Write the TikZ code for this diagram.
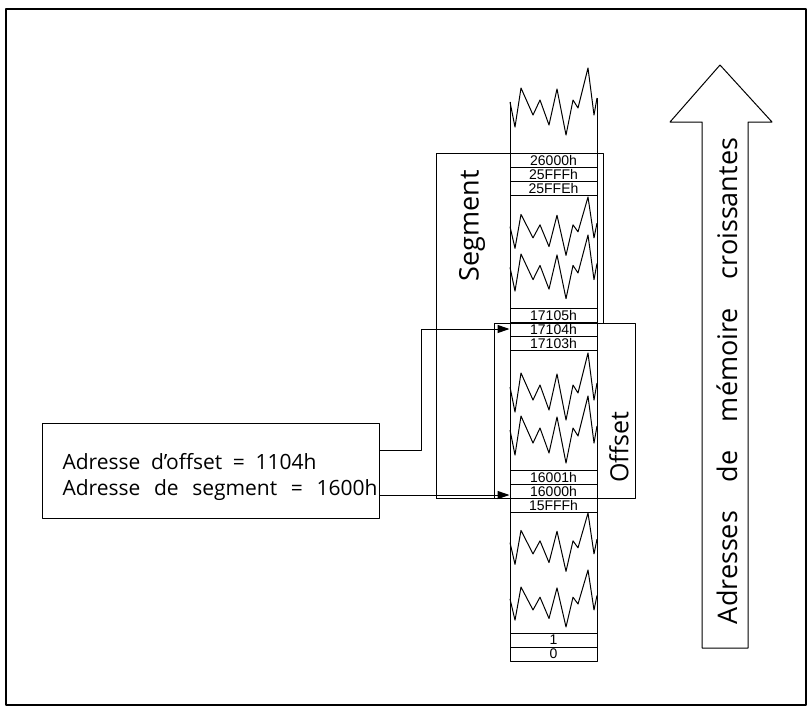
\documentclass[tikz,border=0pt]{standalone}
\usepackage{fontspec}
\setmainfont{Open Sans}
\newfontfamily\cellfont{Liberation Sans}
\usetikzlibrary{arrows.meta}
\begin{document}
\begin{tikzpicture}[x=1pt,y=-1pt, line width=1pt, line join=round,
  cell/.style={draw, minimum width=87pt, minimum height=14pt, inner sep=0pt,
    font=\cellfont\fontsize{14}{14}\selectfont},
  arr/.style={-{Triangle[length=12pt,width=8pt]}},
  lbl/.style={rotate=90, inner sep=0pt},
  boxtxt/.style={anchor=west, inner sep=0pt, font=\fontsize{21}{21}\selectfont},
  zig/.pic={\draw (0,34) -- (5,59) -- (11,20) -- (23,47) -- (30,32) -- (39,57) -- (47,21)
     -- (56,67) -- (63,32) -- (68,40) -- (78,0) -- (84,47) -- (87,30);}]
\useasboundingbox (0,0) rectangle (810,709);
% outer frame
\draw[line width=1.2pt] (6,9) rectangle (806,705);
% memory column edges
\draw (510,102) -- (510,661);
\draw (597,98) -- (597,661);
% zigzag breaks
\pic at (510,68) {zig};
\pic[yscale=0.87] at (510,197) {zig};
\pic[yscale=0.95] at (510,235) {zig};
\pic at (510,353) {zig};
\pic at (510,396) {zig};
\pic[yscale=0.87] at (510,513) {zig};
\pic[yscale=0.85] at (510,570) {zig};
% cells
\node[cell] (c26000) at (553.5,160) {26000h};
\node[cell] (c25FFF) at (553.5,174) {25FFFh};
\node[cell] (c25FFE) at (553.5,188) {25FFEh};
\node[cell] (c17105) at (553.5,315) {17105h};
\node[cell] (c17104) at (553.5,329) {17104h};
\node[cell] (c17103) at (553.5,343) {17103h};
\node[cell] (c16001) at (553.5,477) {16001h};
\node[cell] (c16000) at (553.5,491) {16000h};
\node[cell] (c15FFF) at (553.5,505) {15FFFh};
\node[cell] (c1) at (553.5,640) {1};
\node[cell] (c0) at (553.5,654) {0};
% segment bracket
\draw (436,498) -- (436,153) -- (603,153) -- (603,323);
\draw (436,498) -- (510,498);
\node[lbl, font=\fontsize{27}{27}\selectfont] (seg) at (472,226) {Segment};
% offset box
\draw (494,323) rectangle (635,498);
\node[lbl, font=\fontsize{25}{25}\selectfont] (off) at (619,447) {Offset};
% address box
\node[draw, minimum width=337pt, minimum height=95pt, inner sep=0pt] (addr) at (210.5,470.5) {};
\node[boxtxt] (t1) at (62,462) {\hbox to 254pt{Adresse\hfill d'offset\hfill =\hfill 1104h}};
\node[boxtxt] (t2) at (62,490) {\hbox to 315pt{Adresse\hfill de\hfill segment\hfill =\hfill 1600h}};
\coordinate (p1) at (379,450);
\coordinate (p2) at (379,495);
\draw[arr] (p1) -| ([xshift=-88pt]c17104.west) -- (c17104.west);
\draw[arr] (p2) -- (c16000.west |- p2);
% big arrow
\draw (702,648) -- (702,122) -- (670,122) -- (720,65) -- (772,122) -- (748,122) -- (748,648) -- cycle;
\node[lbl, font=\fontsize{27}{27}\selectfont] (big) at (727,381)
  {Adresses\hspace{0.8em} de\hspace{0.8em} mémoire\hspace{0.8em} croissantes};
\end{tikzpicture}
\end{document}
